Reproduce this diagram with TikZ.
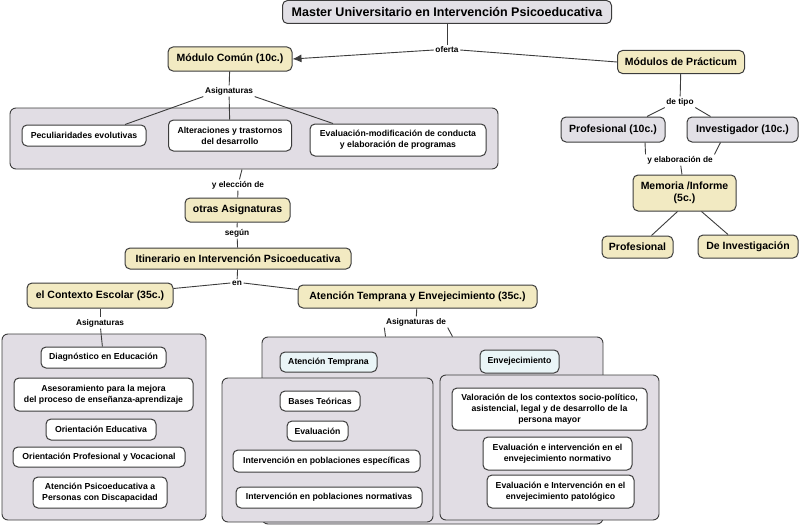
\documentclass[tikz,border=0pt]{standalone}
\usepackage{fontspec}
\setmainfont{Liberation Sans}
\usetikzlibrary{arrows.meta}
\definecolor{beigec}{RGB}{242,234,194}
\definecolor{grayc}{RGB}{226,224,230}
\definecolor{contc}{RGB}{225,221,228}
\definecolor{bluec}{RGB}{234,245,247}
\definecolor{linec}{RGB}{60,60,60}
\tikzset{
  box/.style={draw=linec, line width=1pt, rounded corners=5pt, align=center, inner sep=0pt, font=\bfseries},
  big/.style={box, fill=grayc, font=\bfseries\fontsize{12.5}{14}\selectfont},
  beigebox/.style={box, fill=beigec, font=\bfseries\fontsize{10.5}{12.5}\selectfont},
  graybox/.style={box, fill=grayc, font=\bfseries\fontsize{10.5}{12.5}\selectfont},
  whitebox/.style={box, fill=white, font=\bfseries\fontsize{8.7}{10.8}\selectfont},
  bluebox/.style={box, fill=bluec, font=\bfseries\fontsize{8.7}{10.8}\selectfont},
  cont/.style={draw=linec, line width=0.9pt, rounded corners=6pt, fill=contc, inner sep=0pt},
  lbl/.style={font=\bfseries\fontsize{8.3}{9}\selectfont, inner sep=1.5pt},
  conn/.style={draw=linec, line width=0.9pt},
  sz/.style 2 args={minimum width=#1pt, minimum height=#2pt}
}
\begin{document}
\begin{tikzpicture}[x=1pt,y=-1pt]
\useasboundingbox (0,0) rectangle (800,527);
% containers
\node[cont, sz={488}{61}] (cont1) at (254,138.5) {};
\node[cont, sz={341}{187}] (cont3) at (432.5,430.5) {};
\node[cont, sz={211}{144}] (cont4) at (327.5,450) {};
\node[cont, sz={219}{145}] (cont5) at (549.5,447.5) {};
\node[cont, sz={204}{186}] (cont2) at (104,427) {};
% top
\node[big, sz={329}{23}] (master) at (447,12) {Master Universitario en Intervención Psicoeducativa};
\node[lbl] (oferta) at (447,50) {oferta};
\node[beigebox, sz={124}{24}] (modcom) at (230,59) {Módulo Común (10c.)};
\node[beigebox, sz={127}{23}] (pract) at (681,62) {Módulos de Prácticum};
\node[lbl] (asig1) at (229,91) {Asignaturas};
\node[whitebox, sz={124}{21}] (pecu) at (84,135.5) {Peculiaridades evolutivas};
\node[whitebox, sz={123}{31}] (alter) at (230,135.5) {Alteraciones y trastornos\\del desarrollo};
\node[whitebox, sz={176}{32}] (evalm) at (398,140) {Evaluación-modificación de conducta\\y elaboración de programas};
\node[lbl] (yelec) at (238,185) {y elección de};
\node[beigebox, sz={105}{24}] (otras) at (237.5,210) {otras Asignaturas};
\node[lbl] (segun) at (237,233) {según};
\node[beigebox, sz={226}{21}] (itin) at (238,258.5) {Itinerario en Intervención Psicoeducativa};
\node[lbl] (en) at (237,283) {en};
\node[beigebox, sz={146}{25}] (contexto) at (100,295.5) {el Contexto Escolar (35c.)};
\node[beigebox, sz={239}{23}] (ate) at (417.5,296.5) {Atención Temprana y Envejecimiento (35c.)};
% left column
\node[lbl] (asig2) at (100,323) {Asignaturas};
\node[whitebox, sz={125}{21}] (diag) at (103.5,357.5) {Diagnóstico en Educación};
\node[whitebox, sz={179}{33}] (ases) at (103.5,394.5) {Asesoramiento para la mejora\\del proceso de enseñanza-aprendizaje};
\node[whitebox, sz={110}{21}] (orienE) at (101,429.5) {Orientación Educativa};
\node[whitebox, sz={172}{20}] (orienP) at (99,457) {Orientación Profesional y Vocacional};
\node[whitebox, sz={134}{31}] (atpsi) at (100,492.5) {Atención Psicoeducativa a\\Personas con Discapacidad};
% middle
\node[lbl] (asigde) at (416,322) {Asignaturas de};
\node[bluebox, sz={97}{20}] (athead) at (328.5,362) {Atención Temprana};
\node[bluebox, sz={79}{23}] (envhead) at (519.5,361.5) {Envejecimiento};
\node[whitebox, sz={80}{20}] (bases) at (320,401) {Bases Teóricas};
\node[whitebox, sz={61}{20}] (evalu) at (317.5,431) {Evaluación};
\node[whitebox, sz={187}{22}] (intesp) at (326.5,461) {Intervención en poblaciones específicas};
\node[whitebox, sz={186}{21}] (intnor) at (329,497.5) {Intervención en poblaciones normativas};
\node[whitebox, sz={195}{42}] (valor) at (549.5,409) {Valoración de los contextos socio-político,\\asistencial, legal y de desarrollo de la\\persona mayor};
\node[whitebox, sz={149}{33}] (evnorm) at (557.5,453.5) {Evaluación e intervención en el\\envejecimiento normativo};
\node[whitebox, sz={147}{33}] (evpat) at (560.5,491.5) {Evaluación e Intervención en el\\envejecimiento patológico};
% right
\node[lbl] (detipo) at (680,102) {de tipo};
\node[graybox, sz={104}{25}] (prof10) at (613,129.5) {Profesional (10c.)};
\node[graybox, sz={111}{25}] (inv10) at (742.5,129.5) {Investigador (10c.)};
\node[lbl] (yelab) at (680,160) {y elaboración de};
\node[beigebox, sz={103}{36}] (memo) at (684.5,193) {Memoria /Informe\\(5c.)};
\node[beigebox, sz={71}{22}] (prof) at (637.5,247) {Profesional};
\node[beigebox, sz={100}{23}] (deinv) at (748,246.5) {De Investigación};
% connectors
\draw[conn] (master) -- (oferta);
\draw[conn, -{Latex[length=9pt,width=8pt]}] (oferta.west) -- (modcom.east);
\draw[conn] (oferta.east) -- (pract.west);
\draw[conn] (modcom) -- (asig1);
\draw[conn] (asig1.south west) -- ([xshift=41pt]pecu.north);
\draw[conn] (asig1) -- (alter);
\draw[conn] (asig1.south east) -- ([xshift=-65pt]evalm.north);
\draw[conn] ([xshift=-12pt]cont1.south) -- (yelec);
\draw[conn] (yelec) -- (otras);
\draw[conn] (otras) -- (segun);
\draw[conn] (segun) -- (itin);
\draw[conn] (itin) -- (en);
\draw[conn] (en.west) -- ([yshift=7pt]contexto.east);
\draw[conn] (en.east) -- ([yshift=7pt]ate.west);
\draw[conn] (contexto) -- (asig2);
\draw[conn] (asig2) -- (diag);
\draw[conn] (ate) -- (asigde);
\draw[conn] (asigde.south west) -- ([xshift=-47pt]cont3.north);
\draw[conn] (asigde.south east) -- ([xshift=20pt]cont3.north);
\draw[conn] (pract) -- (detipo);
\draw[conn] (detipo.south west) -- ([xshift=34pt]prof10.north);
\draw[conn] (detipo.south east) -- ([xshift=-32pt]inv10.north);
\draw[conn] ([xshift=32pt]prof10.south) -- (yelab.north west);
\draw[conn] ([xshift=-22pt]inv10.south) -- (yelab.north east);
\draw[conn] (yelab) -- (memo);
\draw[conn] ([xshift=-7pt]memo.south) -- ([xshift=14pt]prof.north);
\draw[conn] ([xshift=17pt]memo.south) -- ([xshift=-20pt]deinv.north);
\end{tikzpicture}
\end{document}
